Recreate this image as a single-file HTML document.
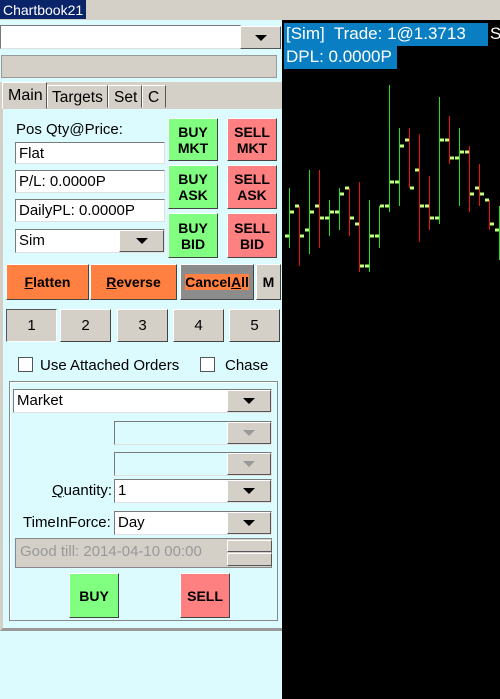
<!DOCTYPE html>
<html><head><meta charset="utf-8">
<style>
*{box-sizing:border-box;margin:0;padding:0}
body{width:500px;height:699px;overflow:hidden;background:#dcfbff;font-family:"Liberation Sans",sans-serif;font-size:14px;position:relative}
.a{position:absolute}
.fld{position:absolute;background:#fff;border:1px solid #7a7a7a;border-right-color:#e0e0e0;border-bottom-color:#e0e0e0;padding:2px 3px 0;white-space:nowrap;line-height:18px}
.dd{position:absolute;background:#d4d0c8;border:1px solid;border-color:#fff #555 #555 #fff}
.dd:after{content:"";position:absolute;left:50%;top:50%;margin:-3px 0 0 -6px;border-left:6px solid transparent;border-right:6px solid transparent;border-top:6px solid #000}
.dd.dis:after{border-top-color:#999}
.btn{position:absolute;border:1px solid;border-color:#fff #444 #444 #fff;font-weight:bold;font-size:14px;text-align:center;display:flex;align-items:center;justify-content:center;line-height:16px}
.g{background:#80ff80}.r{background:#ff8080}.o{background:#ff8040}.gr{background:#d4d0c8}
.cb{position:absolute;width:15px;height:15px;background:#fff;border:1px solid #555}
</style></head><body>
<div class="a" style="left:0;top:0;width:500px;height:20px;background:#d4d0c8"></div>
<div class="a" style="left:0;top:0;width:86px;height:19px;background:#0a246a;color:#fff;font-size:14px;padding:2px 3px">Chartbook21</div>

<div class="fld" style="left:0;top:25px;width:241px;height:24px"></div>
<div class="dd" style="left:240px;top:26px;width:41px;height:23px"></div>
<div class="a" style="left:1px;top:55px;width:276px;height:23px;background:#d4d0c8;border:1px solid #999"></div>

<div class="a" style="left:0;top:82px;width:282px;height:27px;background:#d4d0c8"></div>
<div class="a" style="left:0;top:108px;width:282px;height:523px;border-left:3px solid #d4d0c8;border-bottom:3px solid #999"></div>
<div class="a" style="left:2px;top:82px;width:45px;height:27px;background:#d4d0c8;border:1px solid;border-color:#fff #555 transparent #fff;padding:4px 5px;font-size:16px">Main</div>
<div class="a" style="left:47px;top:85px;width:61px;height:23px;border:1px solid;border-color:#fff #555 transparent #fff;padding:3px 4px;font-size:15.5px">Targets</div>
<div class="a" style="left:108px;top:85px;width:34px;height:23px;border:1px solid;border-color:#fff #555 transparent #fff;padding:3px 5px;font-size:15.5px">Set</div>
<div class="a" style="left:142px;top:85px;width:24px;height:23px;border:1px solid;border-color:#fff #555 transparent #fff;padding:3px 5px;font-size:15.5px">C</div>

<div class="a" style="left:16px;top:121px;font-size:15px">Pos Qty@Price:</div>
<div class="fld" style="left:15px;top:142px;width:150px;height:22px;font-size:15px">Flat</div>
<div class="fld" style="left:15px;top:170px;width:150px;height:23px;font-size:15px">P/L: 0.0000P</div>
<div class="fld" style="left:15px;top:199px;width:150px;height:23px;font-size:15px">DailyPL: 0.0000P</div>
<div class="fld" style="left:15px;top:229px;width:150px;height:24px;font-size:15px">Sim</div>
<div class="dd" style="left:119px;top:230px;width:45px;height:22px"></div>

<div class="btn g" style="left:168px;top:118px;width:50px;height:43px">BUY<br>MKT</div>
<div class="btn r" style="left:227px;top:118px;width:50px;height:43px">SELL<br>MKT</div>
<div class="btn g" style="left:168px;top:165px;width:50px;height:44px">BUY<br>ASK</div>
<div class="btn r" style="left:227px;top:165px;width:50px;height:44px">SELL<br>ASK</div>
<div class="btn g" style="left:168px;top:213px;width:50px;height:45px">BUY<br>BID</div>
<div class="btn r" style="left:227px;top:213px;width:50px;height:45px">SELL<br>BID</div>

<div class="btn o" style="left:6px;top:264px;width:83px;height:36px"><u>F</u>latten</div>
<div class="btn o" style="left:90px;top:264px;width:87px;height:36px"><u>R</u>everse</div>
<div class="btn" style="left:180px;top:264px;width:74px;height:36px;background:#8c8c8c"><span style="background:#ff8040">Cancel<u>A</u>ll</span></div>
<div class="btn gr" style="left:256px;top:264px;width:25px;height:36px">M</div>

<div class="btn gr" style="left:6px;top:309px;width:51px;height:33px;font-weight:normal;font-size:15px;border-color:#555 #fff #fff #555">1</div>
<div class="btn gr" style="left:60px;top:309px;width:51px;height:33px;font-weight:normal;font-size:15px">2</div>
<div class="btn gr" style="left:117px;top:309px;width:51px;height:33px;font-weight:normal;font-size:15px">3</div>
<div class="btn gr" style="left:173px;top:309px;width:51px;height:33px;font-weight:normal;font-size:15px">4</div>
<div class="btn gr" style="left:229px;top:309px;width:51px;height:33px;font-weight:normal;font-size:15px">5</div>

<div class="cb" style="left:18px;top:357px"></div>
<div class="a" style="left:40px;top:357px;font-size:15px">Use Attached Orders</div>
<div class="cb" style="left:200px;top:357px"></div>
<div class="a" style="left:225px;top:357px;font-size:15px">Chase</div>

<div class="a" style="left:9px;top:381px;width:269px;height:240px;border:1px solid #888;box-shadow:inset 1px 1px #fff"></div>
<div class="fld" style="left:13px;top:389px;width:259px;height:24px;font-size:15px">Market</div>
<div class="dd" style="left:227px;top:390px;width:44px;height:22px"></div>
<div class="fld" style="left:114px;top:421px;width:158px;height:24px;background:#dcfbff"></div>
<div class="dd dis" style="left:227px;top:422px;width:44px;height:22px"></div>
<div class="fld" style="left:114px;top:452px;width:158px;height:24px;background:#dcfbff"></div>
<div class="dd dis" style="left:227px;top:453px;width:44px;height:22px"></div>
<div class="a" style="left:52px;top:482px;font-size:15px"><u>Q</u>uantity:</div>
<div class="fld" style="left:114px;top:479px;width:158px;height:24px;font-size:15px">1</div>
<div class="dd" style="left:227px;top:480px;width:44px;height:22px"></div>
<div class="a" style="left:23px;top:514px;font-size:15px">TimeInForce:</div>
<div class="fld" style="left:114px;top:511px;width:158px;height:24px;font-size:15px">Day</div>
<div class="dd" style="left:227px;top:512px;width:44px;height:22px"></div>
<div class="a" style="left:15px;top:538px;width:257px;height:30px;background:#d4d0c8;border:1px solid #888;color:#999;font-size:15px;padding:4px 4px">Good till: 2014-04-10 00:00</div>
<div class="a" style="left:227px;top:540px;width:45px;height:12px;border:1px solid;border-color:#fff #555 #555 #fff;background:#d4d0c8"></div>
<div class="a" style="left:227px;top:553px;width:45px;height:13px;border:1px solid;border-color:#fff #555 #555 #fff;background:#d4d0c8"></div>
<div class="btn g" style="left:69px;top:573px;width:50px;height:45px">BUY</div>
<div class="btn r" style="left:180px;top:573px;width:50px;height:45px">SELL</div>

<svg class="a" style="left:282px;top:20px" width="218" height="679" id="chart"></svg>
<div class="a" style="left:284px;top:23px;width:204px;height:23px;background:#0a7ec2;color:#fff;font-size:17px;padding:1px 2px;white-space:nowrap">[Sim]&nbsp; Trade: 1@1.3713</div>
<div class="a" style="left:490px;top:24px;color:#fff;font-size:17px">S</div>
<div class="a" style="left:284px;top:46px;width:113px;height:23px;background:#0a7ec2;color:#fff;font-size:17px;padding:1px 2px;white-space:nowrap">DPL: 0.0000P</div>

<script>
const opens  = [64,94,70,94,82,88,112,76,34,64,94,118,160,130,94,82,160,142,148,112,100,70];
const highs  = [112,94,130,130,100,112,112,118,100,94,215,172,172,166,124,203,184,172,154,136,100,94];
const lows   = [52,34,46,52,64,70,64,28,28,52,88,94,112,58,70,76,136,94,88,94,70,40];
const closes = [88,64,88,82,88,106,82,34,64,94,118,154,112,94,82,160,142,148,106,106,76,94];
const svg=document.getElementById('chart');
const NS='http://www.w3.org/2000/svg';
function xPos(i){return 7.5+i*10;}
function yPos(v){return 280-v;}
const bg=document.createElementNS(NS,'rect');


bg.setAttribute('width',218);bg.setAttribute('height',679);bg.setAttribute('fill','#000');
svg.appendChild(bg);
for(let i=0;i<opens.length;i++){
  const x=xPos(i), up=closes[i]>=opens[i];
  const l=document.createElementNS(NS,'line');
  
  
  l.setAttribute('x1',x);l.setAttribute('x2',x);l.setAttribute('y1',yPos(highs[i]));l.setAttribute('y2',yPos(lows[i]));
  l.setAttribute('stroke',up?'#20e020':'#f01010');l.setAttribute('stroke-width',1);
  svg.appendChild(l);
  const o=document.createElementNS(NS,'rect');
  
  
  o.setAttribute('x',x-4.5);o.setAttribute('y',yPos(opens[i])-1.5);o.setAttribute('width',4);o.setAttribute('height',3);o.setAttribute('fill','#c0ff80');
  svg.appendChild(o);
  const c=document.createElementNS(NS,'rect');
  
  
  c.setAttribute('x',x+0.5);c.setAttribute('y',yPos(closes[i])-1.5);c.setAttribute('width',4);c.setAttribute('height',3);c.setAttribute('fill','#c0ff80');
  svg.appendChild(c);
}
</script>
</body></html>
